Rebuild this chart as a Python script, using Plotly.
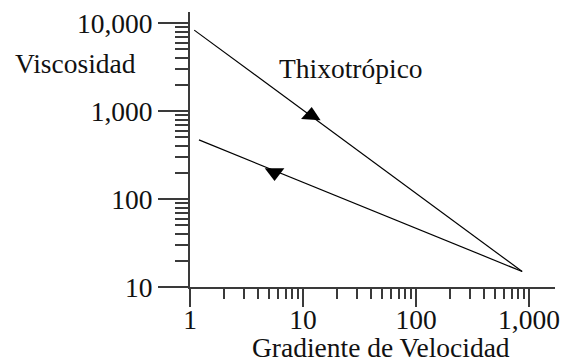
import plotly.graph_objects as go

# Data
x_upper = [1.09, 870]
y_upper = [8300, 15]
x_lower = [1.2, 870]
y_lower = [470, 15]
arrow_up_x = [11.8]
arrow_up_y = [890]
arrow_down_x = [5.6]
arrow_down_y = [200]

x_tickvals = [1, 10, 100, 1000]
x_ticktext = ["1", "10", "100", "1,000"]
y_tickvals = [10, 100, 1000, 10000]
y_ticktext = ["10", "100", "1,000", "10,000"]

FONT = "Liberation Serif, Times New Roman, serif"
AX = "#3a3a3a"
FS = 27.5

fig = go.Figure()
fig.add_trace(go.Scatter(x=x_upper, y=y_upper, mode="lines",
                         line=dict(color="black", width=1.2), hoverinfo="skip"))
fig.add_trace(go.Scatter(x=x_lower, y=y_lower, mode="lines",
                         line=dict(color="black", width=1.2), hoverinfo="skip"))
fig.add_trace(go.Scatter(x=arrow_up_x, y=arrow_up_y, mode="markers",
                         marker=dict(symbol="triangle-up", size=17, color="black", angle=4,
                                     line=dict(width=0)), hoverinfo="skip"))
fig.add_trace(go.Scatter(x=arrow_down_x, y=arrow_down_y, mode="markers",
                         marker=dict(symbol="triangle-down", size=17, color="black", angle=0,
                                     line=dict(width=0)), hoverinfo="skip"))

# page body has an 8px default margin, so the figure is 8px smaller each way
fig.update_layout(
    width=560, height=352,
    margin=dict(l=182, r=13, t=4, b=73, autoexpand=False),
    paper_bgcolor="white", plot_bgcolor="white",
    showlegend=False,
    font=dict(family=FONT, size=FS, color="#111"),
    xaxis=dict(type="log", range=[0, 3.23], showgrid=False, zeroline=False,
               automargin=False,
               showline=True, linecolor=AX, linewidth=2,
               tickmode="array", tickvals=x_tickvals, ticktext=x_ticktext,
               ticks="outside", ticklen=18, tickwidth=2, tickcolor=AX,
               ticklabelstandoff=-11, ticklabeloverflow="allow",
               minor=dict(ticks="outside", ticklen=10, tickwidth=2, tickcolor=AX,
                          dtick="D1", showgrid=False),
               tickfont=dict(family=FONT, size=FS, color="#111")),
    yaxis=dict(type="log", range=[1, 4.125], showgrid=False, zeroline=False,
               automargin=False,
               showline=True, linecolor=AX, linewidth=2,
               tickmode="array", tickvals=y_tickvals, ticktext=y_ticktext,
               ticks="outside", ticklen=30, tickwidth=2, tickcolor=AX,
               ticklabeloverflow="allow",
               minor=dict(ticks="outside", ticklen=13, tickwidth=2, tickcolor=AX,
                          dtick="D1", showgrid=False),
               tickfont=dict(family=FONT, size=FS, color="#111")),
    annotations=[
        dict(text="Viscosidad", xref="paper", yref="paper", x=-0.315, y=0.812,
             xanchor="center", yanchor="middle", showarrow=False,
             font=dict(family=FONT, size=FS, color="#111")),
        dict(text="Thixotrópico", xref="paper", yref="paper", x=0.441, y=0.795,
             xanchor="center", yanchor="middle", showarrow=False,
             font=dict(family=FONT, size=FS, color="#111")),
        dict(text="Gradiente de Velocidad", xref="paper", yref="paper", x=0.523, y=-0.219,
             xanchor="center", yanchor="middle", showarrow=False,
             font=dict(family=FONT, size=FS, color="#111")),
    ],
)

fig.write_html("out.html")
